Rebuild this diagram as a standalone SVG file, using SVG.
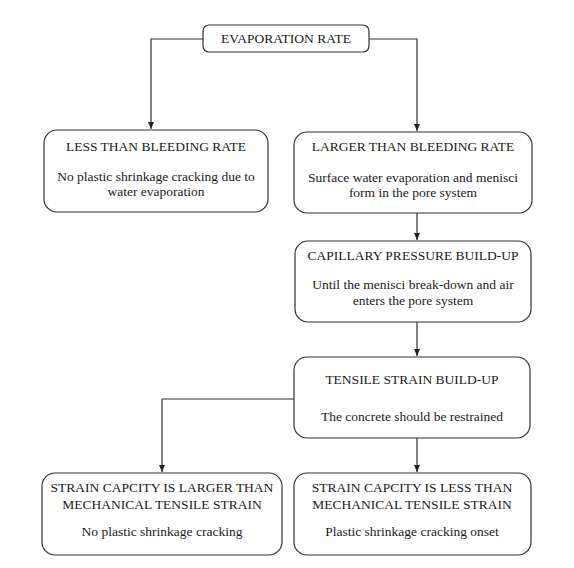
<svg xmlns="http://www.w3.org/2000/svg" width="574" height="568" viewBox="0 0 574 568">
<defs>
<marker id="arr" markerWidth="8" markerHeight="8" refX="7" refY="4" orient="auto" markerUnits="userSpaceOnUse">
<path d="M0,1 L7,4 L0,7 Z" fill="#222"/>
</marker>
<style>
.box{fill:#fff;stroke:#333;stroke-width:1.2}
.con{fill:none;stroke:#333;stroke-width:1.2}
text{font-family:"Liberation Serif","Times New Roman",serif;font-size:13.5px;fill:#1a1a1a;text-anchor:middle}
</style>
</defs>
<rect width="574" height="568" fill="#fff"/>
<g id="connectors">
<path class="con" d="M203,39 H151 V129" marker-end="url(#arr)"/>
<path class="con" d="M369,39 H417 V131" marker-end="url(#arr)"/>
<path class="con" d="M417,213 V240" marker-end="url(#arr)"/>
<path class="con" d="M417,322 V356" marker-end="url(#arr)"/>
<path class="con" d="M294,399 H162 V472" marker-end="url(#arr)"/>
<path class="con" d="M417,438 V472" marker-end="url(#arr)"/>
</g>
<g id="evaporation">
<rect class="box" x="203" y="25" width="166" height="27" rx="6"/>
<text x="286" y="43">EVAPORATION RATE</text>
</g>
<g id="less-bleeding">
<rect class="box" x="44" y="130" width="224" height="82" rx="13"/>
<text x="156" y="151">LESS THAN BLEEDING RATE</text>
<text x="156" y="181">No plastic shrinkage cracking due to</text>
<text x="156" y="196">water evaporation</text>
</g>
<g id="larger-bleeding">
<rect class="box" x="294" y="132" width="238" height="81" rx="13"/>
<text x="413" y="151">LARGER THAN BLEEDING RATE</text>
<text x="413" y="182">Surface water evaporation and menisci</text>
<text x="413" y="197">form in the pore system</text>
</g>
<g id="capillary">
<rect class="box" x="295" y="241" width="236" height="81" rx="13"/>
<text x="413" y="260">CAPILLARY PRESSURE BUILD-UP</text>
<text x="413" y="289">Until the menisci break-down and air</text>
<text x="413" y="305">enters the pore system</text>
</g>
<g id="tensile">
<rect class="box" x="294" y="357" width="236" height="81" rx="13"/>
<text x="412" y="384">TENSILE STRAIN BUILD-UP</text>
<text x="412" y="421">The concrete should be restrained</text>
</g>
<g id="capacity-larger">
<rect class="box" x="42" y="473" width="240" height="82" rx="13"/>
<text x="162" y="492">STRAIN CAPCITY IS LARGER THAN</text>
<text x="162" y="509">MECHANICAL TENSILE STRAIN</text>
<text x="162" y="536">No plastic shrinkage cracking</text>
</g>
<g id="capacity-less">
<rect class="box" x="294" y="473" width="237" height="82" rx="13"/>
<text x="412" y="492">STRAIN CAPCITY IS LESS THAN</text>
<text x="412" y="509">MECHANICAL TENSILE STRAIN</text>
<text x="412" y="536">Plastic shrinkage cracking onset</text>
</g>
</svg>
